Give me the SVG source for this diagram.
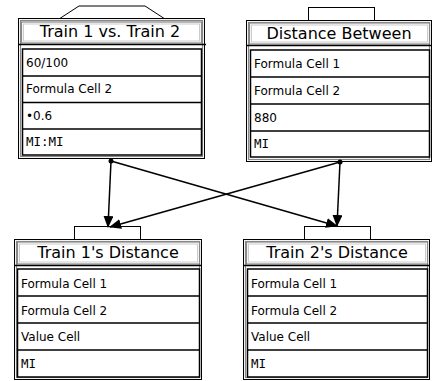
<svg xmlns="http://www.w3.org/2000/svg" width="433" height="381" viewBox="0 0 433 381">
<style>
.frame{fill:#fff;stroke:#000;stroke-width:1}
.frame2{fill:none;stroke:#888;stroke-width:1.2}
.tbox{fill:#fff;stroke:#888;stroke-width:1.2}
.tbox2{fill:none;stroke:#ccc;stroke-width:1}
.cells{fill:#fff;stroke:#000;stroke-width:1.5}
.row{stroke:#000;stroke-width:1.5}
.tab{fill:#fff;stroke:#000;stroke-width:1}
.title{font-family:"DejaVu Sans","Liberation Sans",sans-serif;font-size:16px;fill:#000;text-anchor:middle}
.cell{font-family:"DejaVu Sans","Liberation Sans",sans-serif;font-size:12px;fill:#000}
.mono{font-family:"DejaVu Sans Mono","Liberation Mono",monospace;font-size:12.5px;fill:#000}
.conn{stroke:#000;stroke-width:1.5;fill:none}
</style>
<defs>
<marker id="arr" viewBox="0 0 12 10" refX="11" refY="5" markerWidth="12" markerHeight="10" markerUnits="userSpaceOnUse" orient="auto">
<path d="M0,0 L12,5 L0,10 Z" fill="#000"/>
</marker>
</defs>

<g id="node-train1-vs-train2">
<polyline class="tab" points="59,19 79,6 145,6 165,19"/>
<rect class="frame" x="18.5" y="18.5" width="186" height="140"/>
<rect class="frame2" x="20.5" y="20.5" width="182" height="136"/>
<rect class="tbox" x="21.5" y="22" width="180" height="21"/>
<rect class="tbox2" x="23.5" y="24" width="176" height="17"/>
<line class="row" x1="18" y1="44.5" x2="206" y2="44.5" stroke-width="1"/>
<rect class="cells" x="22.5" y="49" width="179" height="106"/>
<line class="row" x1="22" y1="76" x2="202" y2="76"/>
<line class="row" x1="22" y1="102.5" x2="202" y2="102.5"/>
<line class="row" x1="22" y1="129" x2="202" y2="129"/>
<text class="title" x="110" y="37">Train 1 vs. Train 2</text>
<text class="cell" x="26" y="67">60/100</text>
<text class="cell" x="26" y="93">Formula Cell 2</text>
<text class="cell" x="26" y="120">•0.6</text>
<text class="mono" x="26" y="146">MI:MI</text>
</g>

<g id="node-distance-between">
<rect class="tab" x="308.5" y="7.5" width="66" height="13"/>
<rect class="frame" x="246.5" y="20.5" width="185" height="141"/>
<rect class="frame2" x="248.5" y="22.5" width="181" height="137"/>
<rect class="tbox" x="249.5" y="23" width="180" height="21"/>
<rect class="tbox2" x="251.5" y="25" width="176" height="17"/>
<line class="row" x1="246" y1="45.5" x2="432" y2="45.5" stroke-width="1"/>
<rect class="cells" x="250.5" y="50" width="179" height="107"/>
<line class="row" x1="250" y1="77" x2="430" y2="77"/>
<line class="row" x1="250" y1="104" x2="430" y2="104"/>
<line class="row" x1="250" y1="131" x2="430" y2="131"/>
<text class="title" x="339" y="39">Distance Between</text>
<text class="cell" x="254" y="68">Formula Cell 1</text>
<text class="cell" x="254" y="95">Formula Cell 2</text>
<text class="cell" x="254" y="122">880</text>
<text class="mono" x="254" y="148">MI</text>
</g>

<g id="node-train1-distance">
<rect class="tab" x="74.5" y="226.5" width="66" height="13"/>
<rect class="frame" x="14.5" y="239.5" width="187" height="140"/>
<rect class="frame2" x="16.5" y="241.5" width="183" height="136"/>
<rect class="tbox" x="17.5" y="242" width="182" height="22"/>
<rect class="tbox2" x="19.5" y="244" width="178" height="18"/>
<line class="row" x1="14" y1="265.5" x2="202" y2="265.5" stroke-width="1"/>
<rect class="cells" x="17.5" y="269" width="182" height="108"/>
<line class="row" x1="17" y1="296" x2="200" y2="296"/>
<line class="row" x1="17" y1="323" x2="200" y2="323"/>
<line class="row" x1="17" y1="350" x2="200" y2="350"/>
<text class="title" x="108" y="258">Train 1's Distance</text>
<text class="cell" x="21" y="288">Formula Cell 1</text>
<text class="cell" x="21" y="315">Formula Cell 2</text>
<text class="cell" x="21" y="341">Value Cell</text>
<text class="mono" x="21" y="368">MI</text>
</g>

<g id="node-train2-distance">
<rect class="tab" x="304.5" y="226.5" width="66" height="13"/>
<rect class="frame" x="243.5" y="239.5" width="186" height="140"/>
<rect class="frame2" x="245.5" y="241.5" width="182" height="136"/>
<rect class="tbox" x="246.5" y="242" width="181" height="22"/>
<rect class="tbox2" x="248.5" y="244" width="177" height="18"/>
<line class="row" x1="243" y1="265.5" x2="430" y2="265.5" stroke-width="1"/>
<rect class="cells" x="247.5" y="269" width="180" height="108"/>
<line class="row" x1="247" y1="296" x2="428" y2="296"/>
<line class="row" x1="247" y1="323" x2="428" y2="323"/>
<line class="row" x1="247" y1="350" x2="428" y2="350"/>
<text class="title" x="337" y="258">Train 2's Distance</text>
<text class="cell" x="251" y="288">Formula Cell 1</text>
<text class="cell" x="251" y="315">Formula Cell 2</text>
<text class="cell" x="251" y="341">Value Cell</text>
<text class="mono" x="251" y="368">MI</text>
</g>

<g id="connectors">
<line class="conn" x1="111" y1="161" x2="108" y2="227" marker-end="url(#arr)"/>
<line class="conn" x1="111" y1="161" x2="337" y2="226" marker-end="url(#arr)"/>
<line class="conn" x1="340" y1="162" x2="110" y2="227" marker-end="url(#arr)"/>
<line class="conn" x1="340" y1="162" x2="337" y2="226" marker-end="url(#arr)"/>
<circle cx="111" cy="161" r="2.5" fill="#000"/>
<circle cx="340" cy="162" r="2.5" fill="#000"/>
</g>
</svg>
